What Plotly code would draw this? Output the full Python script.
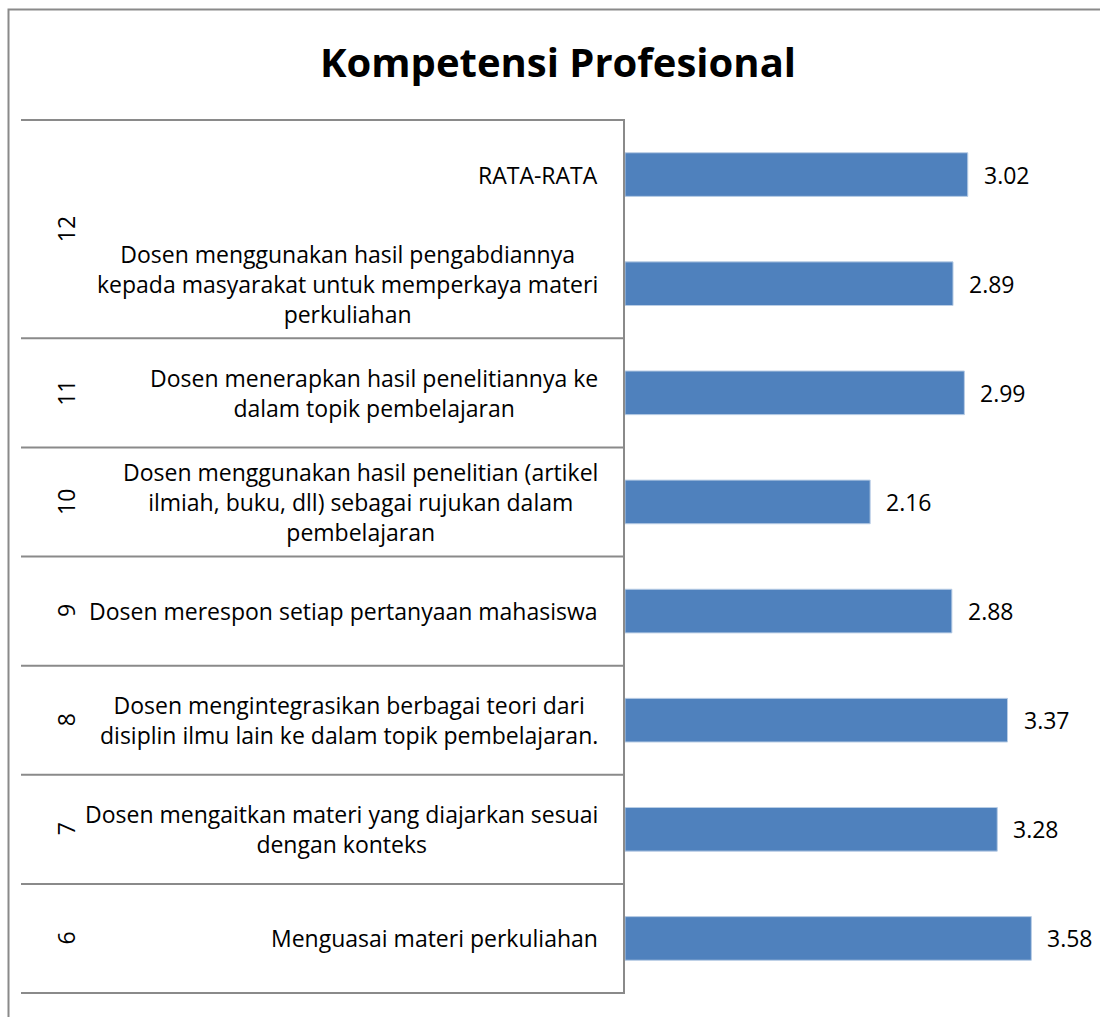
import plotly.graph_objects as go

# ---- data (bottom to top) ----
groups = ["6", "7", "8", "9", "10", "11", "12", "12"]
items = [
    "Menguasai materi perkuliahan",
    "Dosen mengaitkan materi yang diajarkan sesuai<br>dengan konteks",
    "Dosen mengintegrasikan berbagai teori dari<br>disiplin ilmu lain ke dalam topik pembelajaran.",
    "Dosen merespon setiap pertanyaan mahasiswa",
    "Dosen menggunakan hasil penelitian (artikel<br>ilmiah, buku, dll) sebagai rujukan dalam<br>pembelajaran",
    "Dosen menerapkan hasil penelitiannya ke<br>dalam topik pembelajaran",
    "Dosen menggunakan hasil pengabdiannya<br>kepada masyarakat untuk memperkaya materi<br>perkuliahan",
    "RATA-RATA",
]
values = [3.58, 3.28, 3.37, 2.88, 2.16, 2.99, 2.89, 3.02]
title_text = "Kompetensi Profesional"

# ---- layout geometry ----
W, H = 1100, 1017
L, R, T, B = 625, 21, 120, 24
PW, PH = W - L - R, H - T - B
FONT = "Open Sans, sans-serif"
FS = 23
GREY = "#8a8a8a"


def px_x(px):
    return (px - L) / PW


def px_y(py):
    return (H - B - py) / PH


n = len(items)
cats = [f"{g}|{i}" for i, g in enumerate(groups)]

fig = go.Figure(
    go.Bar(
        x=values,
        y=cats,
        orientation="h",
        marker=dict(color="#4F81BD", line=dict(color="#B9CDE5", width=1)),
        width=0.4,
        hoverinfo="x",
    )
)

annotations = []
# value labels
for c, v in zip(cats, values):
    annotations.append(dict(x=v, y=c, xref="x", yref="y", text=f"{v:.2f}",
                            showarrow=False, xanchor="left", yanchor="middle", xshift=14,
                            font=dict(family=FONT, size=FS, color="black")))
# item labels (centered lines, right-aligned block)
for c, t in zip(cats, items):
    annotations.append(dict(x=px_x(600), y=c, xref="paper", yref="y", text=t,
                            showarrow=False, xanchor="right", yanchor="middle",
                            align="center",
                            font=dict(family=FONT, size=FS, color="black")))

# group labels and separators
shapes = []
boundaries = [0]
start = 0
for i in range(1, n + 1):
    if i == n or groups[i] != groups[start]:
        mid = (start + i) / 2 / n
        annotations.append(dict(x=px_x(66), y=mid, xref="paper", yref="paper",
                                text=groups[start], showarrow=False, textangle=-90,
                                xanchor="center", yanchor="middle",
                                font=dict(family=FONT, size=FS, color="black")))
        boundaries.append(i)
        start = i
for b in boundaries:
    shapes.append(dict(type="line", xref="paper", yref="paper",
                       x0=px_x(21), x1=0, y0=b / n, y1=b / n,
                       line=dict(color=GREY, width=2)))

# outer chart border
shapes.append(dict(type="rect", xref="paper", yref="paper",
                   x0=px_x(8.5), x1=px_x(1120), y0=px_y(9.5), y1=px_y(1040),
                   line=dict(color=GREY, width=2), fillcolor="rgba(0,0,0,0)",
                   layer="below"))

# title
annotations.append(dict(x=px_x(558), y=px_y(61), xref="paper", yref="paper",
                        text=f"<b>{title_text}</b>", showarrow=False,
                        xanchor="center", yanchor="middle",
                        font=dict(family=FONT, size=40, color="black")))

fig.update_layout(
    width=W, height=H,
    margin=dict(l=L, r=R, t=T, b=B, pad=0),
    paper_bgcolor="white", plot_bgcolor="white",
    showlegend=False,
    xaxis=dict(range=[0, 4], visible=False, fixedrange=True),
    yaxis=dict(type="category", categoryorder="array", categoryarray=cats,
               showticklabels=False, ticks="", showgrid=False, zeroline=False,
               showline=True, linecolor=GREY, linewidth=2, mirror=False,
               fixedrange=True),
    annotations=annotations,
    shapes=shapes,
    bargap=0.6,
)

fig.write_html("out.html", config={"displayModeBar": False},
               post_script="document.body.style.margin='0';document.body.style.overflow='hidden';")
